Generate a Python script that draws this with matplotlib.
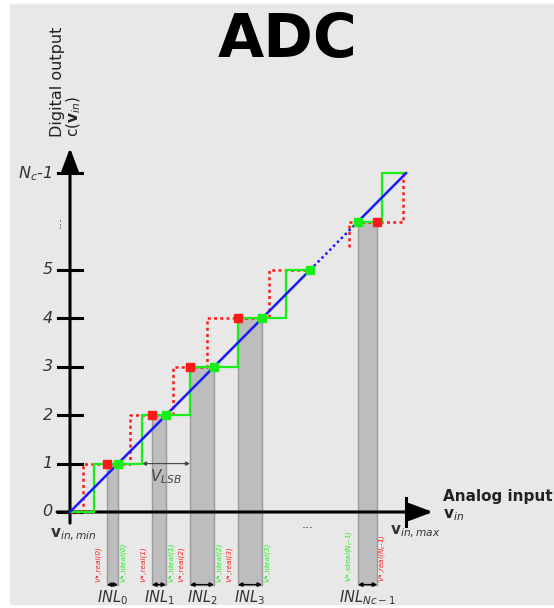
import matplotlib
matplotlib.use("Agg")
import matplotlib.pyplot as plt
from matplotlib.patches import Rectangle

plt.rcParams["mathtext.fontset"] = "dejavusans"

# code levels on the y axis (Nc-1 is drawn at level 7)
TICK_LEVELS = [0, 1, 2, 3, 4, 5, 7]
TICK_LABELS = ["0", "1", "2", "3", "4", "5", "N$_c$-1"]
V_MAX = 7.0

# ideal (green) staircase: transitions at half LSB
IDEAL_EDGES = [0.5, 1.5, 2.5, 3.5, 4.5]
IDEAL_END = 5.0
IDEAL_EDGES_TOP = [6.5]
IDEAL_TOP_START = 6.0
IDEAL_DOTS_X = [1, 2, 3, 4, 5, 6]
IDEAL_DOTS_Y = [1, 2, 3, 4, 5, 6]

# real (red) staircase
REAL_EDGES = [0.27, 1.25, 2.15, 2.85, 4.15]
REAL_END = 5.0
REAL_EDGES_TOP = [5.81, 6.94]
REAL_TOP_FROM = 5.48
REAL_DOTS_X = [0.77, 1.71, 2.50, 3.50, 6.40]
REAL_DOTS_Y = [1, 2, 3, 4, 6]

# INL bars: level, real centre, ideal centre, subscript
INL_LEVEL = [1, 2, 3, 4, 6]
INL_REAL = [0.77, 1.71, 2.50, 3.50, 6.40]
INL_IDEAL = [1.0, 2.0, 3.0, 4.0, 6.0]
INL_SUB = ["0", "1", "2", "3", "Nc-1"]
V_SUB = ["0", "1", "2", "3", "N$_c$-1"]

BAR_BOTTOM = -1.5

RED = "#ff1a1a"
GREEN = "#1aee1a"
BLUE = "#1a1aff"
GRAY_TXT = "#333333"
DOTTED = (0, (1.2, 1.3))


def stair(edges, x0, x1, c0):
    xs, ys = [x0], [c0]
    for i, e in enumerate(edges):
        xs += [e, e]
        ys += [c0 + i, c0 + i + 1]
    xs.append(x1)
    ys.append(c0 + len(edges))
    return xs, ys


fig = plt.figure(figsize=(5.54, 6.08), dpi=100)
fig.patches.append(Rectangle((10 / 554, 4 / 608), 544 / 554, 600 / 608,
                             transform=fig.transFigure, color="#e8e8e8", zorder=-10))
ax = fig.add_axes([0, 0, 1, 1])
ax.set_xlim(-70 / 48, 484 / 48)
ax.set_ylim(-96 / 48.4, 512 / 48.4)
ax.axis("off")
ax.patch.set_alpha(0)

# gray INL bars
for lev, r, i in zip(INL_LEVEL, INL_REAL, INL_IDEAL):
    lo, hi = min(r, i), max(r, i)
    ax.add_patch(Rectangle((lo, BAR_BOTTOM), hi - lo, lev - BAR_BOTTOM,
                           facecolor="#bdbdbd", edgecolor="#9a9a9a", lw=1, zorder=1))
    ax.annotate("", xy=(lo, BAR_BOTTOM), xytext=(hi, BAR_BOTTOM),
                arrowprops=dict(arrowstyle="<|-|>", color="k", lw=1,
                                mutation_scale=6, shrinkA=0, shrinkB=0), zorder=2)

# axes with arrows
head = "-|>,head_length=0.8,head_width=0.3"
ax.annotate("", xy=(7.56, 0), xytext=(-0.27, 0),
            arrowprops=dict(arrowstyle=head, color="k", lw=2.2,
                            mutation_scale=18, shrinkA=0, shrinkB=0), zorder=2)
ax.annotate("", xy=(0, 7.52), xytext=(0, -0.23),
            arrowprops=dict(arrowstyle=head, color="k", lw=2.2,
                            mutation_scale=18, shrinkA=0, shrinkB=0), zorder=2)
for lev, lab in zip(TICK_LEVELS, TICK_LABELS):
    ax.plot([-0.25, 0.25], [lev, lev], color="k", lw=2.2, zorder=2)
    ax.text(-0.36, lev, lab, ha="right", va="center", fontsize=11.5,
            style="italic", color=GRAY_TXT)
ax.plot([V_MAX, V_MAX], [-0.29, 0.29], color="k", lw=2.2, zorder=2)
ax.text(-0.27, 6.0, "...", rotation=90, ha="center", va="center", fontsize=9, color=GRAY_TXT)
ax.text(4.96, -0.25, "...", ha="center", va="center", fontsize=9, color=GRAY_TXT)

# real staircase (red dotted)
xs, ys = stair(REAL_EDGES, 0, REAL_END, 0)
ax.plot(xs, ys, color=RED, lw=1.8, ls=DOTTED, zorder=3)
xs, ys = stair(REAL_EDGES_TOP[1:], REAL_EDGES_TOP[0], V_MAX, 6)
ax.plot([REAL_EDGES_TOP[0]] + xs, [REAL_TOP_FROM] + ys, color=RED, lw=1.8,
        ls=DOTTED, zorder=3)

# ideal staircase (green)
xs, ys = stair(IDEAL_EDGES, 0, IDEAL_END, 0)
ax.plot(xs, ys, color=GREEN, lw=1.6, zorder=4)
xs, ys = stair(IDEAL_EDGES_TOP, IDEAL_TOP_START, V_MAX, 6)
ax.plot(xs, ys, color=GREEN, lw=1.6, zorder=4)

# ideal transfer line
ax.plot([0, 5], [0, 5], color=BLUE, lw=1.8, zorder=5)
ax.plot([5, 6], [5, 6], color=BLUE, lw=1.8, ls=(0, (1, 1.2)), zorder=5)
ax.plot([6, V_MAX], [6, V_MAX], color=BLUE, lw=1.8, zorder=5)

ax.plot(REAL_DOTS_X, REAL_DOTS_Y, "s", color=RED, ms=6, zorder=6)
ax.plot(IDEAL_DOTS_X, IDEAL_DOTS_Y, "s", color=GREEN, ms=6, zorder=6)

# V_LSB
ax.annotate("", xy=(1.5, 1), xytext=(2.5, 1),
            arrowprops=dict(arrowstyle="<|-|>", color="#444444", lw=0.8,
                            mutation_scale=6, shrinkA=0, shrinkB=0), zorder=2)
ax.text(2.0, 0.74, "V$_{LSB}$", ha="center", va="center", fontsize=11,
        style="italic", color="#444444")

# INL labels and rotated V labels
for lev, r, i, sub, vsub in zip(INL_LEVEL, INL_REAL, INL_IDEAL, INL_SUB, V_SUB):
    lo, hi = min(r, i), max(r, i)
    ax.text((lo + hi) / 2, -1.76, "INL$_{" + sub + "}$", ha="center", va="center",
            fontsize=10.5, style="italic", color=GRAY_TXT)
    real_lab = "V\u2022,real(" + vsub + ")"
    ideal_lab = "V\u2022,ideal(" + vsub + ")"
    if r < i:
        left, lcol, right, rcol = real_lab, RED, ideal_lab, GREEN
    else:
        left, lcol, right, rcol = ideal_lab, GREEN, real_lab, RED
    ax.text(lo - 0.18, -1.45, left, rotation=90, ha="center", va="bottom",
            fontsize=5.2, style="italic", color=lcol)
    ax.text(hi + 0.11, -1.45, right, rotation=90, ha="center", va="bottom",
            fontsize=5.2, style="italic", color=rcol)

# axis titles
ax.text(-0.42, -0.47, r"$\mathbf{v}_{in,min}$", ha="left", va="center",
        fontsize=11, color=GRAY_TXT)
ax.text(6.67, -0.41, r"$\mathbf{v}_{in,max}$", ha="left", va="center",
        fontsize=11, color=GRAY_TXT)
ax.text(7.77, 0.31, "Analog input", ha="left", va="center", fontsize=11,
        fontweight="bold", color="#222222")
ax.text(7.77, -0.06, r"$\mathbf{v}_{in}$", ha="left", va="center", fontsize=11,
        color="#222222")
ax.text(-0.26, 7.75, "Digital output", rotation=90, ha="center", va="bottom",
        fontsize=11.5, color="#222222")
ax.text(0.08, 7.75, r"c($\mathbf{v}_{in}$)", rotation=90, ha="center", va="bottom",
        fontsize=11, color="#222222")

fig.text(288 / 554, 1 - 40 / 608, "ADC", ha="center", va="center",
         fontsize=43, fontweight="bold", color="k")

fig.savefig("out.png", dpi=100)
